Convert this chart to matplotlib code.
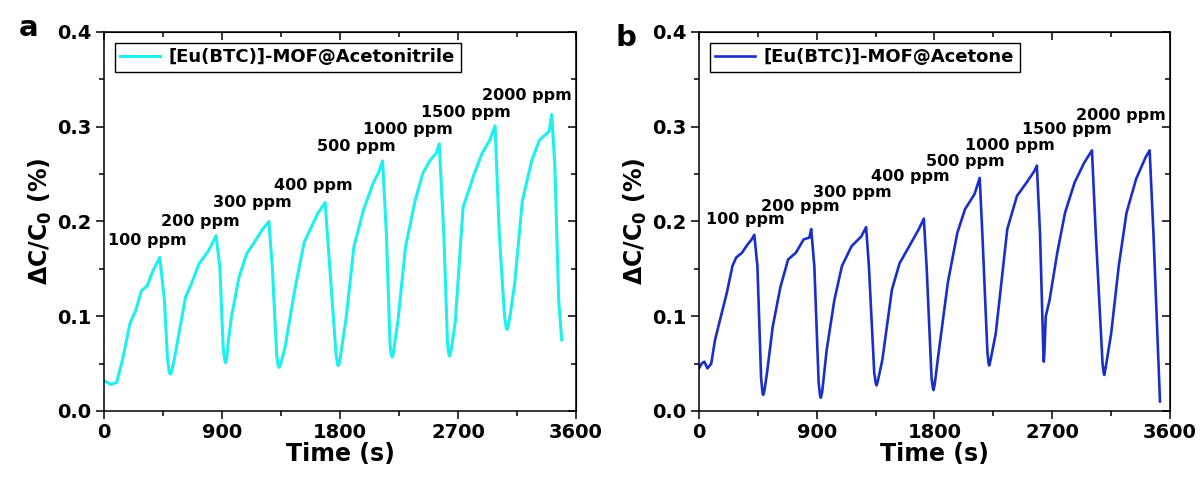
import matplotlib.pyplot as plt
from matplotlib.ticker import MultipleLocator, FormatStrFormatter

plt.rcParams['font.family'] = ['DejaVu Sans']
plt.rcParams['font.weight'] = 'bold'
plt.rcParams['axes.labelweight'] = 'bold'
plt.rcParams['mathtext.default'] = 'bf'

# panel a: [Eu(BTC)]-MOF@Acetonitrile
t_a = [0, 53, 96, 140, 198, 242, 286, 330, 374, 426, 461, 485, 498, 505, 515, 530,
       549, 622, 666, 724, 797, 855, 884, 910, 922, 928, 936, 950, 972, 1030, 1089,
       1147, 1206, 1258, 1284, 1318, 1330, 1337, 1347, 1360, 1381, 1454, 1527, 1571,
       1629, 1687, 1722, 1770, 1782, 1789, 1798, 1815, 1848, 1906, 1979, 2052, 2096,
       2125, 2154, 2182, 2192, 2198, 2206, 2220, 2242, 2300, 2373, 2432, 2490, 2534,
       2557, 2592, 2620, 2630, 2636, 2645, 2660, 2680, 2739, 2826, 2884, 2943, 2983,
       3015, 3055, 3068, 3074, 3082, 3100, 3132, 3191, 3264, 3322, 3395, 3415, 3439,
       3468, 3491]
r_a = [0.032, 0.028, 0.030, 0.053, 0.092, 0.106, 0.127, 0.132, 0.148, 0.162, 0.117,
       0.055, 0.041, 0.039, 0.041, 0.050, 0.064, 0.120, 0.134, 0.155, 0.169, 0.185,
       0.152, 0.065, 0.053, 0.051, 0.055, 0.075, 0.099, 0.141, 0.166, 0.178, 0.191,
       0.200, 0.152, 0.058, 0.047, 0.046, 0.049, 0.056, 0.067, 0.127, 0.178, 0.191,
       0.208, 0.220, 0.152, 0.060, 0.049, 0.048, 0.052, 0.068, 0.099, 0.173, 0.212,
       0.240, 0.252, 0.264, 0.187, 0.070, 0.059, 0.057, 0.060, 0.074, 0.095, 0.173,
       0.222, 0.251, 0.265, 0.272, 0.282, 0.187, 0.072, 0.060, 0.058, 0.062, 0.075,
       0.095, 0.215, 0.251, 0.272, 0.286, 0.301, 0.187, 0.100, 0.088, 0.086, 0.089,
       0.103, 0.134, 0.222, 0.265, 0.286, 0.295, 0.313, 0.258, 0.117, 0.075]

# panel b: [Eu(BTC)]-MOF@Acetone
t_b = [0, 21, 41, 65, 94, 123, 168, 212, 256, 285, 329, 373, 403, 423, 447, 475, 486,
       491, 500, 520, 564, 623, 682, 741, 800, 844, 858, 882, 915, 926, 932, 942, 976,
       1035, 1093, 1167, 1240, 1278, 1299, 1340, 1352, 1358, 1368, 1402, 1475, 1534,
       1608, 1681, 1719, 1740, 1778, 1788, 1793, 1802, 1828, 1902, 1975, 2034, 2107,
       2146, 2166, 2205, 2214, 2219, 2228, 2269, 2357, 2431, 2504, 2563, 2583, 2607,
       2633, 2636, 2640, 2651, 2680, 2739, 2798, 2871, 2945, 3004, 3033, 3085, 3094,
       3098, 3108, 3151, 3209, 3268, 3342, 3415, 3445, 3474, 3524]
r_b = [0.045, 0.050, 0.052, 0.045, 0.050, 0.075, 0.100, 0.124, 0.153, 0.162, 0.167,
       0.176, 0.181, 0.186, 0.153, 0.035, 0.019, 0.017, 0.021, 0.040, 0.089, 0.131,
       0.160, 0.167, 0.181, 0.183, 0.192, 0.153, 0.030, 0.016, 0.014, 0.020, 0.064,
       0.117, 0.153, 0.174, 0.184, 0.194, 0.153, 0.040, 0.029, 0.027, 0.032, 0.054,
       0.128, 0.156, 0.174, 0.192, 0.203, 0.153, 0.035, 0.024, 0.022, 0.028, 0.057,
       0.135, 0.188, 0.213, 0.229, 0.246, 0.188, 0.062, 0.050, 0.048, 0.053, 0.082,
       0.192, 0.227, 0.241, 0.253, 0.259, 0.188, 0.060, 0.052, 0.060, 0.100, 0.117,
       0.167, 0.209, 0.241, 0.262, 0.275, 0.188, 0.050, 0.040, 0.038, 0.045, 0.082,
       0.153, 0.209, 0.245, 0.268, 0.275, 0.188, 0.010]

conc = ['100 ppm', '200 ppm', '300 ppm', '400 ppm', '500 ppm',
        '1000 ppm', '1500 ppm', '2000 ppm']
lab_xa = [333, 736, 1133, 1597, 1921, 2320, 2762, 3228]
lab_ya = [0.180, 0.200, 0.220, 0.238, 0.279, 0.297, 0.315, 0.333]
lab_xb = [353, 776, 1176, 1619, 2037, 2378, 2813, 3227]
lab_yb = [0.202, 0.216, 0.231, 0.247, 0.263, 0.280, 0.297, 0.312]

fig = plt.figure(figsize=(12.03, 4.8), dpi=100)
ax1 = fig.add_axes([0.0864, 0.1438, 0.3924, 0.7896])
ax2 = fig.add_axes([0.5810, 0.1438, 0.3915, 0.7896])


def style(ax, t, r, color, lw, name, lx, ly, letter, lpos):
    ax.plot(t, r, color=color, lw=lw, label=name, solid_joinstyle='round')
    ax.set_xlim(0, 3600)
    ax.set_ylim(0, 0.4)
    ax.xaxis.set_major_locator(MultipleLocator(900))
    ax.xaxis.set_minor_locator(MultipleLocator(450))
    ax.yaxis.set_major_locator(MultipleLocator(0.1))
    ax.yaxis.set_minor_locator(MultipleLocator(0.05))
    ax.yaxis.set_major_formatter(FormatStrFormatter('%.1f'))
    for s in ax.spines.values():
        s.set_linewidth(1.1)
    ax.tick_params(which='major', direction='out', length=6, width=1.1,
                   labelsize=14, pad=3)
    ax.tick_params(which='minor', direction='out', length=3.5, width=1.1)
    # mirrored inward ticks on top and right
    top = ax.secondary_xaxis('top')
    top.xaxis.set_major_locator(MultipleLocator(900))
    top.xaxis.set_minor_locator(MultipleLocator(450))
    top.tick_params(which='major', direction='in', length=6, width=1.1, labeltop=False)
    top.tick_params(which='minor', direction='in', length=3.5, width=1.1)
    right = ax.secondary_yaxis('right')
    right.yaxis.set_major_locator(MultipleLocator(0.1))
    right.yaxis.set_minor_locator(MultipleLocator(0.05))
    right.tick_params(which='major', direction='in', length=6, width=1.1, labelright=False)
    right.tick_params(which='minor', direction='in', length=3.5, width=1.1)

    ax.set_xlabel('Time (s)', fontsize=17, labelpad=0)
    ax.set_ylabel('ΔC/C$_0$ (%)', fontsize=17, labelpad=2)
    for c, x, y in zip(conc, lx, ly):
        ax.text(x, y, c, fontsize=11.5, ha='center', va='center')
    leg = ax.legend(loc='upper left', fontsize=13, frameon=True, fancybox=False,
                    edgecolor='black', framealpha=1, handlelength=2.2,
                    borderpad=0.3, borderaxespad=0.6, handletextpad=0.5)
    leg.get_frame().set_linewidth(1.0)
    fig.text(lpos[0], lpos[1], letter, fontsize=21, ha='left', va='top')


style(ax1, t_a, r_a, '#1EEFEF', 2.2, '[Eu(BTC)]-MOF@Acetonitrile',
      lab_xa, lab_ya, 'a', (0.016, 0.97))
style(ax2, t_b, r_b, '#1A2EC8', 1.9, '[Eu(BTC)]-MOF@Acetone',
      lab_xb, lab_yb, 'b', (0.512, 0.95))

fig.savefig('out.png', dpi=100)
